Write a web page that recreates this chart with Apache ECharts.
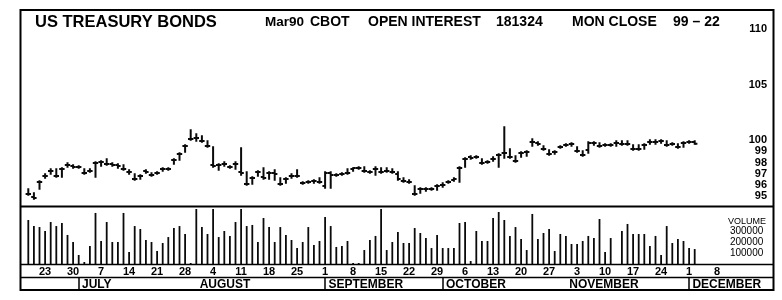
<!DOCTYPE html>
<html><head><meta charset="utf-8">
<script src="https://cdn.jsdelivr.net/npm/echarts@6/dist/echarts.min.js"></script>
<style>html,body{margin:0;padding:0;background:#fff}#c{width:782px;height:300px}</style>
</head><body><div id="c"></div>
<script>
// ---- data ----
const startDate = [1989, 5, 20];   // first trading slot: Tue 20 June 1989
const slotCount = 128;             // weekday slots shown on the axis
const priceHigh = [95.62,95.27,96.34,96.97,97.42,97.42,97.51,97.96,97.78,97.69,
97.42,97.42,98.05,98.14,98.32,97.96,97.87,97.78,97.33,96.97,
96.88,97.33,97.06,97.15,97.51,97.51,98.32,98.86,99.58,100.93,
100.57,100.39,99.94,99.40,97.87,98.05,97.69,98.05,99.31,97.15,
96.70,97.24,97.51,97.15,97.33,96.61,96.61,96.97,97.33,96.25,
96.34,96.43,96.61,97.15,97.15,96.97,97.06,97.42,97.51,97.60,
97.60,97.24,97.60,97.51,97.51,97.42,97.15,96.61,96.43,95.89,
95.71,95.71,95.71,95.98,96.16,96.34,96.61,97.60,98.41,98.59,
98.59,98.32,98.14,98.50,98.77,101.19,99.22,98.59,98.95,99.04,
100.12,99.85,99.49,99.13,99.04,99.49,99.67,99.76,99.40,99.04,
99.85,99.85,99.76,99.67,99.67,99.94,99.94,99.94,99.58,99.58,
99.67,100.03,100.03,100.03,99.94,99.76,99.67,99.85,99.94,99.94];
const priceLow = [95.09,94.73,95.62,96.61,96.97,96.70,96.70,97.60,97.51,97.51,
96.97,97.15,96.70,97.69,97.78,97.69,97.51,97.33,96.97,96.43,
96.52,97.06,96.79,96.97,97.24,97.33,97.87,98.23,98.95,100.03,
99.94,99.85,99.40,97.60,97.33,97.69,97.51,97.42,96.88,95.98,
96.07,96.79,96.52,96.52,96.43,95.98,96.16,96.61,96.70,96.07,
96.16,96.16,96.16,95.71,95.71,96.79,96.88,96.97,97.24,97.42,
97.15,97.06,96.88,97.06,97.15,97.06,96.43,96.25,96.16,95.09,
95.27,95.44,95.53,95.53,95.80,96.16,96.34,96.25,97.60,98.32,
98.41,97.87,97.96,98.14,97.60,98.41,98.41,98.05,98.50,98.59,
99.49,99.58,99.13,98.68,98.77,99.31,99.49,99.49,98.95,98.59,
98.86,99.58,99.40,99.49,99.49,99.49,99.58,99.58,99.13,99.13,
99.22,99.67,99.67,99.76,99.49,99.58,99.31,99.40,99.76,99.67];
const priceOpen = [95.18,94.91,96.25,96.79,97.24,96.79,97.42,97.78,97.69,97.60,
97.06,97.24,97.96,98.05,97.87,97.87,97.78,97.42,97.15,96.52,
96.79,97.24,96.88,97.06,97.42,97.42,98.23,98.77,99.49,100.12,
100.21,99.94,99.49,97.78,97.78,97.87,97.60,97.87,97.15,96.07,
96.61,97.15,96.70,97.06,97.06,96.07,96.52,96.79,96.79,96.16,
96.25,96.34,96.25,95.89,97.06,96.88,96.97,97.06,97.42,97.51,
97.24,97.15,97.42,97.15,97.24,97.15,96.97,96.34,96.25,95.18,
95.62,95.62,95.62,95.89,95.98,96.25,96.43,97.51,98.32,98.50,
98.50,97.96,98.05,98.32,98.68,98.86,98.50,98.14,98.86,98.95,
99.85,99.76,99.22,98.77,98.95,99.40,99.58,99.67,99.04,98.68,
99.13,99.76,99.49,99.58,99.58,99.76,99.67,99.67,99.22,99.22,
99.58,99.85,99.85,99.94,99.58,99.67,99.40,99.76,99.85,99.85];
const priceClose = [95.18,94.82,96.25,96.79,97.24,96.79,97.42,97.78,97.60,97.60,
97.06,97.24,97.96,98.05,97.87,97.78,97.69,97.42,97.15,96.52,
96.79,97.15,96.88,97.06,97.42,97.42,98.23,98.77,99.49,100.12,
100.21,99.94,99.49,97.69,97.78,97.87,97.60,97.87,97.06,96.07,
96.61,97.15,96.61,97.06,96.97,96.07,96.52,96.79,96.79,96.16,
96.25,96.34,96.25,97.06,96.88,96.88,96.97,97.06,97.51,97.51,
97.24,97.15,97.42,97.15,97.24,97.15,96.52,96.34,96.25,95.18,
95.62,95.62,95.62,95.89,95.98,96.25,96.52,97.51,98.32,98.41,
98.50,97.96,98.05,98.32,98.68,98.86,98.50,98.14,98.86,98.95,
99.85,99.67,99.22,98.77,98.95,99.40,99.58,99.67,99.04,98.68,
99.76,99.76,99.49,99.58,99.58,99.76,99.67,99.67,99.22,99.22,
99.58,99.85,99.85,99.94,99.58,99.67,99.40,99.76,99.85,99.69];
const volume = [400000,345000,336000,300000,382000,345000,373000,264000,200000,82000,
18000,164000,464000,209000,382000,200000,200000,464000,109000,345000,
318000,218000,200000,118000,191000,245000,327000,345000,273000,9000,
560000,336000,273000,560000,245000,300000,255000,382000,560000,345000,
355000,200000,418000,336000,200000,336000,264000,218000,145000,200000,
336000,173000,209000,427000,345000,155000,164000,209000,9000,9000,
127000,218000,255000,560000,127000,200000,291000,191000,191000,327000,
282000,236000,145000,264000,145000,145000,145000,373000,382000,27000,
300000,209000,209000,418000,473000,400000,255000,336000,227000,127000,
455000,227000,282000,318000,118000,273000,255000,182000,182000,209000,
255000,236000,409000,109000,236000,null,300000,364000,273000,273000,
273000,164000,255000,82000,345000,191000,227000,209000,145000,136000];
const priceTicks = [95, 96, 97, 98, 99, 100, 105, 110];
const volumeTicks = [100000, 200000, 300000];
const weekLabels = ['23','30','7','14','21','28','4','11','18','25','1','8','15','22','29','6','13','20','27','3','10','17','24','1','8'];
const monthLabels = ['JULY','AUGUST','SEPTEMBER','OCTOBER','NOVEMBER','DECEMBER'];
const monthSeparators = ['JULY','SEPTEMBER','OCTOBER','DECEMBER'];

// ---- axis categories: weekday slots ----
const days = [];
let d = new Date(Date.UTC(startDate[0], startDate[1], startDate[2]));
while (days.length < slotCount) {
  const wd = d.getUTCDay();
  if (wd > 0 && wd < 6) days.push(new Date(d.getTime()));
  d = new Date(d.getTime() + 86400000);
}
const categories = days.map(x => x.toISOString().slice(0, 10));
const weekText = {}; let wk = 0;
days.forEach((x, i) => { if (x.getUTCDay() === 5 && wk < weekLabels.length) weekText[i] = weekLabels[wk++]; });
const monthText = {}; let mk = 0;
days.forEach((x, i) => { if (i > 0 && x.getUTCMonth() !== days[i-1].getUTCMonth() && mk < monthLabels.length) monthText[i] = monthLabels[mk++]; });
const sepIdx = new Set(Object.keys(monthText).filter(k => monthSeparators.includes(monthText[k])).map(Number));

const ohlc = priceOpen.map((o, i) => [i, o, priceHigh[i], priceLow[i], priceClose[i]]);

const FONT = '"Liberation Sans", Arial, Helvetica, sans-serif';
const L = 25.5, W = 716.8;

function renderOHLC(params, api) {
  const i = api.value(0);
  const pO = api.coord([i, api.value(1)]);
  const yH = api.coord([i, api.value(2)])[1];
  const yL = api.coord([i, api.value(3)])[1];
  const yC = api.coord([i, api.value(4)])[1];
  const x = pO[0];
  const t = 2.7;
  const st = { stroke: '#0a0a0a', lineWidth: 2 };
  return { type: 'group', children: [
    { type: 'line', shape: { x1: x, y1: yH - 0.8, x2: x, y2: yL + 0.8 }, style: st },
    { type: 'line', shape: { x1: x - t, y1: pO[1], x2: x, y2: pO[1] }, style: st },
    { type: 'line', shape: { x1: x, y1: yC, x2: x + t, y2: yC }, style: st }
  ]};
}

const chart = echarts.init(document.getElementById('c'), null, { renderer: 'canvas' });
const txt = (text, left, top, size, weight) => ({
  type: 'text', left: left, top: top, z: 50,
  style: { text: text, fill: '#000', font: (weight || 'bold') + ' ' + size + 'px ' + FONT }
});
chart.setOption({
  animation: false,
  backgroundColor: '#fff',
  textStyle: { fontFamily: FONT },
  grid: [
    { left: L, width: W, top: 6.7, height: 200.4 },
    { left: L, width: W, top: 209, height: 55 },
    { left: L, width: W, top: 270, height: 8 }
  ],
  xAxis: [
    { gridIndex: 0, type: 'category', data: categories, show: false },
    { gridIndex: 1, type: 'category', data: categories,
      axisLine: { show: false }, axisTick: { show: false },
      axisLabel: { interval: (i) => weekText[i] !== undefined, formatter: (v, i) => weekText[i] || '',
        margin: 2, fontSize: 11, fontWeight: 'bold', color: '#000' } },
    { gridIndex: 2, type: 'category', data: categories,
      axisLine: { show: false },
      axisTick: { show: true, length: 12, alignWithLabel: true,
        interval: (i) => sepIdx.has(i), lineStyle: { color: '#000', width: 1.5 } },
      axisLabel: { interval: (i) => monthText[i] !== undefined, formatter: (v, i) => monthText[i] ? ' ' + monthText[i] : '',
        align: 'left', margin: 1,
        fontSize: 12, fontWeight: 'bold', color: '#000' } }
  ],
  yAxis: [
    { gridIndex: 0, type: 'value', position: 'right', min: 94, max: 112, interval: 1,
      axisLine: { show: false }, axisTick: { show: false }, splitLine: { show: false },
      axisLabel: { formatter: (v) => priceTicks.includes(v) ? String(v) : '', align: 'right', margin: 24.7,
        fontSize: 11, fontWeight: 'bold', color: '#000' } },
    { gridIndex: 1, type: 'value', position: 'right', min: 0, max: 500000, interval: 100000,
      axisLine: { show: false }, axisTick: { show: false }, splitLine: { show: false },
      axisLabel: { formatter: (v) => volumeTicks.includes(v) ? String(v) : '', align: 'right', margin: 21,
        fontSize: 10, color: '#000' } },
    { gridIndex: 2, type: 'value', show: false }
  ],
  series: [
    { type: 'custom', xAxisIndex: 0, yAxisIndex: 0, data: ohlc, renderItem: renderOHLC,
      encode: { x: 0, y: [1, 2, 3, 4] }, clip: true },
    { type: 'bar', xAxisIndex: 1, yAxisIndex: 1, data: volume, barWidth: 1.8,
      itemStyle: { color: '#0a0a0a' }, clip: true }
  ],
  graphic: [
    { type: 'rect', z: 60, shape: { x: 20.5, y: 10, width: 753, height: 280 }, style: { fill: 'none', stroke: '#000', lineWidth: 2 } },
    { type: 'line', z: 60, shape: { x1: 20, y1: 206.5, x2: 774, y2: 206.5 }, style: { stroke: '#000', lineWidth: 2 } },
    { type: 'line', z: 60, shape: { x1: 20, y1: 264.5, x2: 774, y2: 264.5 }, style: { stroke: '#000', lineWidth: 1.6 } },
    { type: 'line', z: 60, shape: { x1: 20, y1: 277.5, x2: 774, y2: 277.5 }, style: { stroke: '#000', lineWidth: 1.6 } },
    txt('US TREASURY BONDS', 35, 14, 16.5),
    txt('Mar90', 265, 15, 13.5),
    txt('CBOT', 310, 15, 14),
    txt('OPEN INTEREST', 368, 15, 14),
    txt('181324', 496, 15, 14),
    txt('MON CLOSE', 572, 15, 14),
    txt('99 \u2013 22', 673, 15, 14),
    txt('VOLUME', 728, 217, 9, 'normal')
  ]
});
</script>
</body></html>
